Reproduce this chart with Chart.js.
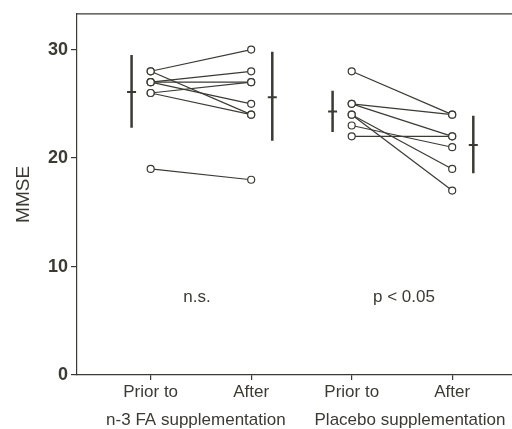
<!DOCTYPE html>
<html>
<head>
<meta charset="utf-8">
<script src="https://cdn.jsdelivr.net/npm/chart.js@4.4.1/dist/chart.umd.min.js"></script>
<style>
    body { margin: 0; background: #fff; }
    #wrap { width: 512px; height: 429px; }
</style>
</head>
<body>
<div id="wrap"><canvas id="grafica" width="512" height="429"></canvas></div>
<script>
// #region Datos
let xTicks = [1, 2, 3, 4]
let xTickLabels = ["Prior to", "After", "Prior to", "After"]
let yTicks = [0, 10, 20, 30]
let groupLabels = ["n-3 FA supplementation", "Placebo supplementation"]
let notes = ["n.s.", "p < 0.05"]

// each subject: value before, value after
let n3Before = [28, 28, 27, 27, 27, 26, 26, 19]
let n3After = [30, 24, 28, 27, 25, 27, 24, 18]
let placeboBefore = [28, 25, 25, 24, 24, 23, 22]
let placeboAfter = [24, 24, 22, 19, 17, 21, 22]

// mean and SD bars
let barX = [0.81, 2.21, 2.81, 4.21]
let barMean = [26.1, 25.6, 24.3, 21.2]
let barLow = [22.8, 21.6, 22.4, 18.6]
let barHigh = [29.5, 29.8, 26.2, 23.9]

// #region Gráfica
let tinta = "#3b3a33"
let fuente = "'Liberation Sans', Arial, Helvetica, sans-serif"

let datasets = []

function pares(antes, despues, x1, x2) {
    for (let i = 0; i < antes.length; i++) {
        datasets.push({
            data: [{ x: x1, y: antes[i] }, { x: x2, y: despues[i] }],
            borderColor: tinta,
            borderWidth: 1.2,
            pointRadius: 3.5,
            pointBackgroundColor: "#fff",
            pointBorderColor: tinta,
            pointBorderWidth: 1.2,
        })
    }
}
pares(n3Before, n3After, xTicks[0], xTicks[1])
pares(placeboBefore, placeboAfter, xTicks[2], xTicks[3])

for (let i = 0; i < barX.length; i++) {
    datasets.push({
        data: [{ x: barX[i], y: barLow[i] }, { x: barX[i], y: barHigh[i] }],
        borderColor: tinta,
        borderWidth: 2.5,
        pointRadius: 0,
    })
}
datasets.push({
    data: barX.map((x, i) => ({ x: x, y: barMean[i] })),
    showLine: false,
    pointStyle: "line",
    pointRadius: 4.5,
    pointBorderWidth: 2,
    pointBorderColor: tinta,
})

let textos = {
    id: "textos",
    afterDraw(chart) {
        let ctx = chart.ctx
        let x = chart.scales.x
        let y = chart.scales.y
        let area = chart.chartArea
        ctx.save()
        // top frame line
        ctx.strokeStyle = tinta
        ctx.lineWidth = 1.2
        ctx.beginPath()
        ctx.moveTo(area.left, area.top)
        ctx.lineTo(area.right, area.top)
        ctx.stroke()

        ctx.fillStyle = tinta
        ctx.font = "17px " + fuente
        ctx.textAlign = "center"
        ctx.textBaseline = "middle"
        ctx.fillText(groupLabels[0], x.getPixelForValue(1.45), 420)
        ctx.fillText(groupLabels[1], x.getPixelForValue(3.58), 420)
        ctx.fillText(notes[0], x.getPixelForValue(1.46), y.getPixelForValue(7.2))
        ctx.fillText(notes[1], x.getPixelForValue(3.52), y.getPixelForValue(7.2))
        ctx.restore()
    }
}

let grafica = new Chart(document.getElementById("grafica").getContext("2d"), {
    type: "line",
    data: { datasets: datasets },
    options: {
        responsive: false,
        animation: false,
        layout: { autoPadding: false, padding: { top: 12, right: 0, left: 0, bottom: 0 } },
        scales: {
            x: {
                type: "linear",
                min: 0.267,
                max: 4.595,
                afterBuildTicks: (s) => { s.ticks = xTicks.map(v => ({ value: v })) },
                afterFit: (s) => { s.height = 54 },
                ticks: {
                    callback: (v) => xTickLabels[xTicks.indexOf(v)],
                    color: tinta,
                    font: { size: 17, family: fuente },
                    padding: 2,
                    maxRotation: 0,
                },
                grid: { drawOnChartArea: false, tickLength: 5, color: tinta, lineWidth: 1.2 },
                border: { color: tinta, width: 1.2 },
            },
            y: {
                min: 0,
                max: 33.3,
                afterBuildTicks: (s) => { s.ticks = yTicks.map(v => ({ value: v })) },
                afterFit: (s) => { s.width = 77 },
                ticks: {
                    color: tinta,
                    font: { size: 18, weight: "bold", family: fuente },
                    padding: 3,
                },
                grid: { drawOnChartArea: false, tickLength: 6, color: tinta, lineWidth: 1.2 },
                border: { color: tinta, width: 1.2 },
                title: {
                    display: true,
                    text: "MMSE",
                    color: tinta,
                    font: { size: 19, family: fuente },
                    padding: { top: 12, bottom: 0 },
                },
            },
        },
        plugins: {
            legend: { display: false },
            tooltip: { enabled: false },
        },
    },
    plugins: [textos],
});
</script>
</body>
</html>
